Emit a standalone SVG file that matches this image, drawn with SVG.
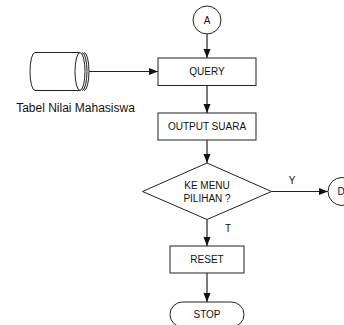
<svg xmlns="http://www.w3.org/2000/svg" width="344" height="325" viewBox="0 0 344 325">
<style>
.s{fill:#fff;stroke:#222;stroke-width:1}
.c{fill:none;stroke:#222;stroke-width:1.2}
.t{font-family:"Liberation Sans",Arial,sans-serif;font-size:10px;fill:#111;text-anchor:middle}
.l{font-family:"Liberation Sans",Arial,sans-serif;font-size:12px;fill:#111;text-anchor:middle}
</style>
<defs>
<marker id="ah" markerUnits="userSpaceOnUse" markerWidth="10" markerHeight="8" refX="9" refY="3.5" orient="auto">
<path d="M0,0 L9,3.5 L0,7 z" fill="#111"/>
</marker>
</defs>
<rect width="344" height="325" fill="#fff"/>
<g id="connectors">
<line class="c" x1="207" y1="34" x2="207" y2="58" marker-end="url(#ah)"/>
<line class="c" x1="89" y1="71.5" x2="158" y2="71.5" marker-end="url(#ah)"/>
<line class="c" x1="207" y1="85.5" x2="207" y2="113" marker-end="url(#ah)"/>
<line class="c" x1="207" y1="140" x2="207" y2="163" marker-end="url(#ah)"/>
<line class="c" x1="271.5" y1="191.5" x2="328" y2="191.5" marker-end="url(#ah)"/>
<line class="c" x1="207" y1="219.5" x2="207" y2="246" marker-end="url(#ah)"/>
<line class="c" x1="207" y1="273" x2="207" y2="302" marker-end="url(#ah)"/>
<text class="t" x="292" y="184">Y</text>
<text class="t" x="228" y="232">T</text>
</g>
<g id="connA">
<circle class="s" cx="207" cy="20" r="14"/>
<text class="t" x="207" y="23.5">A</text>
</g>
<g id="tabel">
<path class="s" d="M35,52.5 L80,52.5 L80,90.5 L35,90.5 A5,19 0 0 1 35,52.5 z"/>
<ellipse class="s" cx="80" cy="71.5" rx="5" ry="19"/>
<path fill="none" stroke="#222" stroke-width="1" d="M82,52.5 A5,19 0 0 1 82,90.5 M84,52.5 A5,19 0 0 1 84,90.5"/>
<text class="l" x="75.5" y="111.5">Tabel Nilai Mahasiswa</text>
</g>
<g id="query">
<rect class="s" x="158" y="58" width="98" height="27.5"/>
<text class="t" x="207" y="75">QUERY</text>
</g>
<g id="output">
<rect class="s" x="158" y="113" width="98" height="27"/>
<text class="t" x="207" y="130">OUTPUT SUARA</text>
</g>
<g id="decision">
<polygon class="s" points="207,163 271.5,191.5 207,219.5 142.5,191.5"/>
<text class="t" x="207" y="188.5">KE MENU</text>
<text class="t" x="207" y="201.5">PILIHAN ?</text>
</g>
<g id="connD">
<circle class="s" cx="342" cy="191.5" r="14"/>
<text class="t" x="341" y="195">D</text>
</g>
<g id="reset">
<rect class="s" x="170" y="246" width="74" height="27"/>
<text class="t" x="207" y="263">RESET</text>
</g>
<g id="stop">
<rect class="s" x="170" y="302" width="74" height="25" rx="12.5" ry="12.5"/>
<text class="t" x="207" y="318">STOP</text>
</g>
</svg>
